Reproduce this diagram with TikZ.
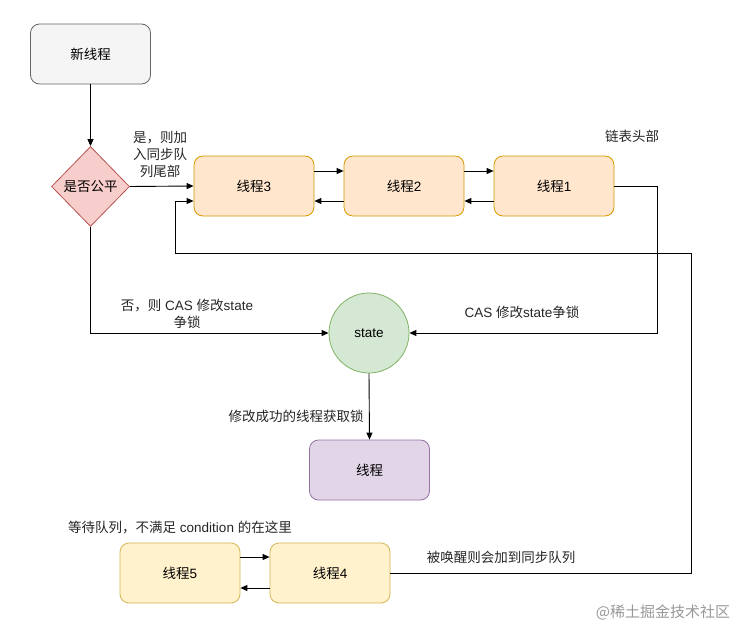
\documentclass[tikz,border=0pt]{standalone}
\usepackage{fontspec}
\setmainfont{Noto Sans CJK SC}
\newfontfamily\lat{Liberation Sans}
\usetikzlibrary{arrows.meta,shapes.geometric}
\definecolor{grayfill}{HTML}{F5F5F5}
\definecolor{graystroke}{HTML}{666666}
\definecolor{redfill}{HTML}{F8CECC}
\definecolor{redstroke}{HTML}{B85450}
\definecolor{orfill}{HTML}{FFE6CC}
\definecolor{orstroke}{HTML}{D79B00}
\definecolor{grfill}{HTML}{D5E8D4}
\definecolor{grstroke}{HTML}{82B366}
\definecolor{pufill}{HTML}{E1D5E7}
\definecolor{pustroke}{HTML}{9673A6}
\definecolor{yefill}{HTML}{FFF2CC}
\definecolor{yestroke}{HTML}{D6B656}
\tikzset{
  box/.style={draw, rounded corners=9pt, minimum width=120pt, minimum height=60pt, inner sep=0pt, line width=0.8pt},
  lbl/.style={inner sep=0pt, align=center, text=black!85},
  arr/.style={-{Triangle[length=7pt,width=6pt]}, line width=0.9pt},
  ln/.style={line width=0.9pt}
}
\begin{document}
\begin{tikzpicture}[x=1pt,y=-1pt,font=\fontsize{13.5}{17}\selectfont]
\useasboundingbox[fill=white] (0,0) rectangle (752,642);
\node[box, fill=grayfill, draw=graystroke] (new) at (90.5,54) {新线程};
\node[diamond, draw=redstroke, fill=redfill, line width=0.8pt, minimum width=78pt, minimum height=80pt, inner sep=0pt, aspect=1] (dia) at (90.5,186.5) {是否公平};
\node[box, fill=orfill, draw=orstroke] (t3) at (254,186) {线程{\lat 3}};
\node[box, fill=orfill, draw=orstroke] (t2) at (404,186) {线程{\lat 2}};
\node[box, fill=orfill, draw=orstroke] (t1) at (554,186) {线程{\lat 1}};
\node[circle, draw=grstroke, fill=grfill, line width=0.8pt, minimum size=80pt, inner sep=0pt] (state) at (369,333) {\lat state};
\node[box, fill=pufill, draw=pustroke] (th) at (369.5,470) {线程};
\node[box, fill=yefill, draw=yestroke] (t5) at (180,573) {线程{\lat 5}};
\node[box, fill=yefill, draw=yestroke] (t4) at (330,573) {线程{\lat 4}};
\coordinate (c1) at (691,253);
\coordinate (c2) at (175,253);
% connectors
\draw[arr] (new) -- (dia);
\draw[arr] (dia.east) -- (t3.west);
\draw[arr] ([yshift=15pt]t3.east) -- ([yshift=15pt]t2.west);
\draw[arr] ([yshift=-15pt]t2.west) -- ([yshift=-15pt]t3.east);
\draw[arr] ([yshift=15pt]t2.east) -- ([yshift=15pt]t1.west);
\draw[arr] ([yshift=-15pt]t1.west) -- ([yshift=-15pt]t2.east);
\draw[arr] (t1.east) -- ++(43pt,0) |- (state.east);
\draw[arr] (dia.south) |- (state.west);
\draw[arr] (state.south) -- (th.north);
\draw[arr] ([yshift=16pt]t5.east) -- ([yshift=16pt]t4.west);
\draw[arr] ([yshift=-15pt]t4.west) -- ([yshift=-15pt]t5.east);
\draw[arr] (t4.east) -| (c1) -- (c2) |- ([yshift=-15pt]t3.west);
% labels
\node[lbl] (l1) at (160,154) {是，则加\\入同步队\\列尾部};
\node[lbl] (l2) at (632,136) {链表头部};
\node[lbl] (l3) at (522,312) {{\lat CAS }修改{\lat state}争锁};
\node[lbl] (l4) at (187,314) {否，则{\lat\ CAS }修改{\lat state}\\争锁};
\node[lbl] (l5) at (296,416) {修改成功的线程获取锁};
\node[lbl] (l6) at (180,528) {等待队列，不满足{\lat\ condition }的在这里};
\node[lbl] (l7) at (501,557) {被唤醒则会加到同步队列};
\node[lbl, text=black!40, font=\fontsize{15}{17}\selectfont] (wm) at (663,612) {@稀土掘金技术社区};
\end{tikzpicture}
\end{document}
